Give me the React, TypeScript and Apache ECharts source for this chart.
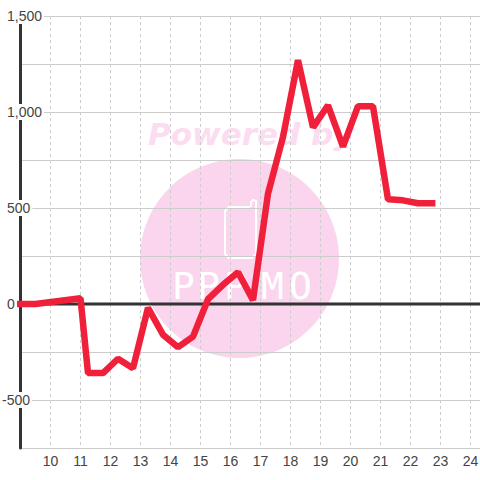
import React, { useEffect, useRef } from "react";
import * as echarts from "echarts";

const hours = [8.88, 9.5, 11, 11.25, 11.75, 12.25, 12.75, 13.25, 13.75, 14.25, 14.75, 15.25, 15.75, 16.25, 16.75, 17.25, 17.75, 18.25, 18.75, 19.25, 19.75, 20.25, 20.75, 21.25, 21.75, 22.25, 22.83];
const values = [0, 0, 30, -360, -360, -285, -335, -20, -160, -225, -170, 25, 100, 165, 20, 575, 870, 1270, 920, 1035, 820, 1030, 1030, 545, 540, 525, 525];
const zeroHours = [9, 24.3167];
const zeroValues = [0, 0];
const labelledValues = [1500, 1000, 500, 0, -500];
const logoLetters = ["P", "P", "P", "M", "O"];
const logoLetterX = [172, 197, 224, 261, 289];

export default function App() {
  const ref = useRef<HTMLDivElement>(null);
  useEffect(() => {
    document.body.style.margin = "0";
    const chart = echarts.init(ref.current!, undefined, { renderer: "svg", width: 480, height: 480 });
    const font = "'Liberation Sans', Arial, sans-serif";
    const pink = "#fbd5ee";
    chart.setOption({
      animation: false,
      backgroundColor: "#ffffff",
      textStyle: { fontFamily: font },
      grid: { left: 20.5, top: 16, right: 0, height: 432, containLabel: false, outerBoundsMode: "none" },
      graphic: [
        { type: "text", z: -10, x: 148, y: 118, style: { text: "Powered by", font: "italic bold 31px 'DejaVu Sans'", fill: "#fcdcf1" } },
        { type: "circle", z: -10, shape: { cx: 239.5, cy: 258.5, r: 99.5 }, style: { fill: pink } },
        { type: "polyline", z: -9, shape: { points: [[250, 207], [229, 207], [225, 211], [225, 254], [229, 258], [252, 258], [256, 254], [256, 201], [253, 200], [251, 202], [251, 207]] }, style: { stroke: "#ffffff", fill: "none", lineWidth: 2 } },
        ...logoLetters.map((letter, i) => ({
          type: "text",
          z: -9,
          x: logoLetterX[i],
          y: 267,
          style: { text: letter, font: "38px 'DejaVu Sans Mono'", fill: "#ffffff" },
        })),
      ],
      xAxis: {
        type: "value",
        min: 9,
        max: 24.3167,
        interval: 1,
        axisLine: { show: false },
        axisTick: { show: false },
        splitLine: { show: true, lineStyle: { color: "#cccccc", width: 1, type: [3, 3] } },
        axisLabel: {
          color: "#444444",
          fontSize: 14,
          fontFamily: font,
          margin: 6,
          formatter: (v: number) => (v >= 10 && v <= 24 ? String(v) : ""),
        },
      },
      yAxis: {
        type: "value",
        min: -750,
        max: 1500,
        interval: 250,
        axisLine: { show: true, lineStyle: { color: "#333333", width: 3 } },
        axisTick: { show: false },
        splitLine: { show: true, lineStyle: { color: "#cccccc", width: 1 } },
        axisLabel: {
          color: "#444444",
          fontSize: 14,
          fontFamily: font,
          align: "left",
          margin: 18.5,
          backgroundColor: "#ffffff",
          padding: [1, 2, 1, 0],
          formatter: (v: number) => {
            if (!labelledValues.includes(v)) return "";
            const text = v.toLocaleString("en-US");
            return v < 0 ? text : "{n|" + text + "}";
          },
          rich: { n: { padding: [0, 0, 0, 5], color: "#444444", fontSize: 14, fontFamily: font } },
        },
      },
      series: [
        {
          type: "line",
          data: zeroHours.map((h, i) => [h, zeroValues[i]]),
          symbol: "none",
          silent: true,
          clip: false,
          z: 2,
          lineStyle: { color: "#333333", width: 3 },
        },
        {
          type: "line",
          data: hours.map((h, i) => [h, values[i]]),
          symbol: "none",
          clip: false,
          z: 3,
          lineStyle: { color: "#f01f3a", width: 6.5, join: "bevel", cap: "butt" },
        },
      ],
    });
    return () => chart.dispose();
  }, []);
  return <div ref={ref} style={{ width: 480, height: 480 }} />;
}
